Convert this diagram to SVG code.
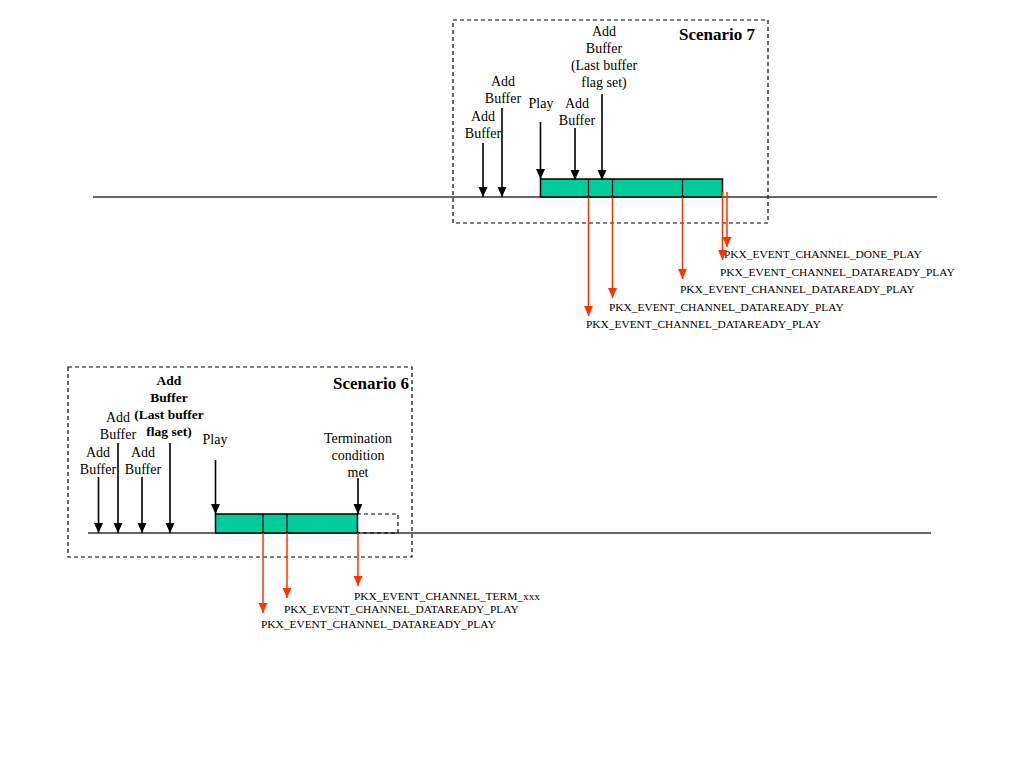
<svg xmlns="http://www.w3.org/2000/svg" width="1024" height="768" viewBox="0 0 1024 768">
<defs>
<marker id="ab" markerUnits="userSpaceOnUse" markerWidth="10" markerHeight="10" refX="10" refY="4.5" orient="auto" viewBox="0 0 10 9"><path d="M0,0 L10,4.5 L0,9 z" fill="#000"/></marker>
<marker id="ar" markerUnits="userSpaceOnUse" markerWidth="10" markerHeight="10" refX="10" refY="4.5" orient="auto" viewBox="0 0 10 9"><path d="M0,0 L10,4.5 L0,9 z" fill="#FF3300"/></marker>
</defs>
<style>
.t{font-family:"Liberation Serif","Times New Roman",serif;font-size:14px;fill:#000;text-anchor:middle}
.b{font-weight:bold;font-size:13.5px}
.h{font-family:"Liberation Serif","Times New Roman",serif;font-size:17px;font-weight:bold;fill:#000}
.e{font-family:"Liberation Serif","Times New Roman",serif;font-size:11.4px;fill:#000}
.box{fill:none;stroke:#000;stroke-width:1.2;stroke-dasharray:4,3}
.tl{stroke:#333;stroke-width:1.3}
.bar{fill:#00CC99;stroke:#000;stroke-width:1.5}
.dv{stroke:#000;stroke-width:1.2}
.ka{stroke:#000;stroke-width:1.6;marker-end:url(#ab)}
.ra{stroke:#FF3300;stroke-width:1.5;marker-end:url(#ar)}
</style>
<rect width="1024" height="768" fill="#fff"/>

<g id="scenario7">
<line class="tl" x1="93" y1="197" x2="937" y2="197"/>
<rect class="box" x="453" y="20" width="315" height="203"/>
<text class="h" x="679" y="40">Scenario 7</text>
<rect class="bar" x="540.5" y="179" width="182" height="18"/>
<line class="dv" x1="588.5" y1="179" x2="588.5" y2="197"/>
<line class="dv" x1="612.5" y1="179" x2="612.5" y2="197"/>
<line class="dv" x1="682.5" y1="179" x2="682.5" y2="197"/>
</g>

<g id="s7-labels">
<text class="t" x="483" y="121">Add</text>
<text class="t" x="483" y="138">Buffer</text>
<text class="t" x="503" y="86">Add</text>
<text class="t" x="503" y="103">Buffer</text>
<text class="t" x="541" y="108">Play</text>
<text class="t" x="577" y="108">Add</text>
<text class="t" x="577" y="125">Buffer</text>
<text class="t" x="604" y="36">Add</text>
<text class="t" x="604" y="53">Buffer</text>
<text class="t" x="604" y="70">(Last buffer</text>
<text class="t" x="604" y="87">flag set)</text>
<text class="e" x="724" y="258">PKX_EVENT_CHANNEL_DONE_PLAY</text>
<text class="e" x="720" y="276">PKX_EVENT_CHANNEL_DATAREADY_PLAY</text>
<text class="e" x="680" y="293">PKX_EVENT_CHANNEL_DATAREADY_PLAY</text>
<text class="e" x="609" y="311">PKX_EVENT_CHANNEL_DATAREADY_PLAY</text>
<text class="e" x="586" y="328">PKX_EVENT_CHANNEL_DATAREADY_PLAY</text>
</g>

<g id="scenario6">
<line class="tl" x1="88" y1="533" x2="931" y2="533"/>
<rect class="box" x="68" y="367" width="344" height="190"/>
<text class="h" x="333" y="389">Scenario 6</text>
<rect class="box" x="357" y="514" width="41" height="19"/>
<rect class="bar" x="215.5" y="514" width="142" height="19"/>
<line class="dv" x1="263" y1="514" x2="263" y2="533"/>
<line class="dv" x1="287" y1="514" x2="287" y2="533"/>
</g>

<g id="s6-labels">
<text class="t" x="98" y="457">Add</text>
<text class="t" x="98" y="474">Buffer</text>
<text class="t" x="118" y="422">Add</text>
<text class="t" x="118" y="439">Buffer</text>
<text class="t" x="143" y="457">Add</text>
<text class="t" x="143" y="474">Buffer</text>
<text class="t b" x="169" y="385">Add</text>
<text class="t b" x="169" y="402">Buffer</text>
<text class="t b" x="169" y="419">(Last buffer</text>
<text class="t b" x="169" y="436">flag set)</text>
<text class="t" x="215" y="444">Play</text>
<text class="t" x="358" y="443">Termination</text>
<text class="t" x="358" y="460">condition</text>
<text class="t" x="358" y="477">met</text>
<text class="e" x="354" y="600">PKX_EVENT_CHANNEL_TERM_xxx</text>
<text class="e" x="284" y="613">PKX_EVENT_CHANNEL_DATAREADY_PLAY</text>
<text class="e" x="261" y="628">PKX_EVENT_CHANNEL_DATAREADY_PLAY</text>
</g>

<g id="connectors">
<line class="ka" x1="483" y1="143" x2="483" y2="197"/>
<line class="ka" x1="502" y1="108" x2="502" y2="197"/>
<line class="ka" x1="540.5" y1="122" x2="540.5" y2="179"/>
<line class="ka" x1="575" y1="128" x2="575" y2="180"/>
<line class="ka" x1="602" y1="94" x2="602" y2="180"/>
<line class="ra" x1="588.5" y1="197" x2="588.5" y2="316"/>
<line class="ra" x1="612.5" y1="197" x2="612.5" y2="298"/>
<line class="ra" x1="682.5" y1="197" x2="682.5" y2="279"/>
<line class="ra" x1="722.5" y1="192" x2="722.5" y2="260"/>
<line class="ra" x1="727" y1="192" x2="727" y2="247"/>

<line class="ka" x1="98.5" y1="477" x2="98.5" y2="533"/>
<line class="ka" x1="118" y1="443" x2="118" y2="533"/>
<line class="ka" x1="142" y1="477" x2="142" y2="533"/>
<line class="ka" x1="170" y1="443" x2="170" y2="533"/>
<line class="ka" x1="215.5" y1="460" x2="215.5" y2="514"/>
<line class="ka" x1="358" y1="478" x2="358" y2="514"/>
<line class="ra" x1="263" y1="533" x2="263" y2="613"/>
<line class="ra" x1="287" y1="533" x2="287" y2="598"/>
<line class="ra" x1="358" y1="533" x2="358" y2="586"/>
</g>
</svg>
